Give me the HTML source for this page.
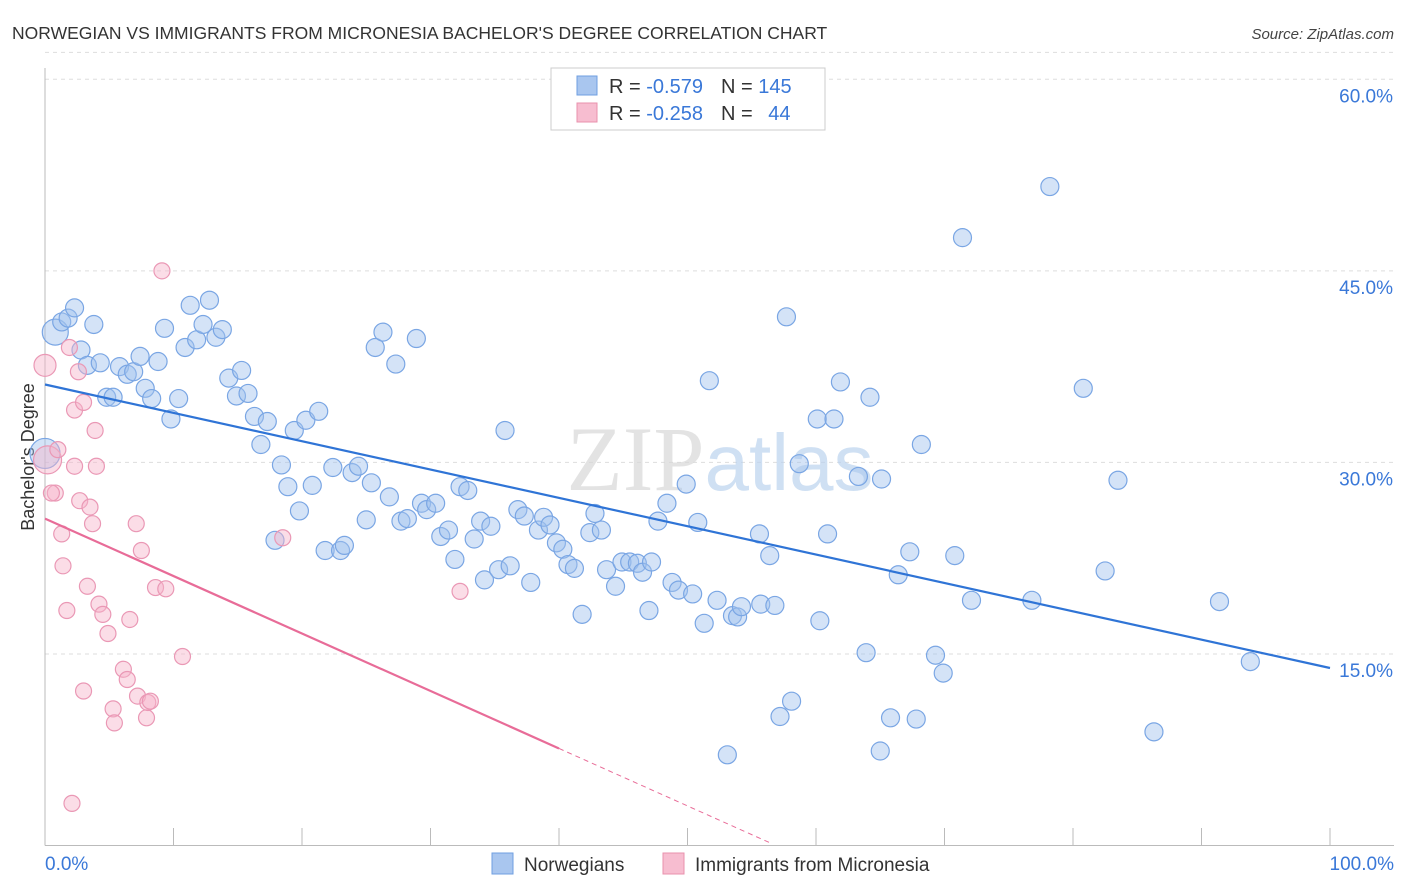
<!DOCTYPE html>
<html><head><meta charset="utf-8">
<style>
body{margin:0;background:#fff;font-family:"Liberation Sans",sans-serif;}
svg{display:block}
</style></head>
<body>
<svg id="chart" width="1406" height="892" viewBox="0 0 1406 892" xmlns="http://www.w3.org/2000/svg">
<text x="12" y="39" font-size="17.5" fill="#333" font-family="Liberation Sans, sans-serif">NORWEGIAN VS IMMIGRANTS FROM MICRONESIA BACHELOR'S DEGREE CORRELATION CHART</text>
<text x="1394" y="39" font-size="15" fill="#444" text-anchor="end" font-style="italic">Source: ZipAtlas.com</text>
<g id="grid"></g>
<text x="720" y="490" font-size="92" text-anchor="middle" fill="#d8d8d8" font-family="Liberation Serif, serif" opacity="0.7">ZIP<tspan fill="#bcd3ee" font-family="Liberation Sans, sans-serif" font-size="80">atlas</tspan></text>
<text transform="translate(34,457) rotate(-90)" font-size="18" fill="#333" text-anchor="middle">Bachelor's Degree</text>
<g id="points"></g>
<g id="trends"></g>
<g>
<rect x="551" y="68" width="274" height="62" fill="#fff" stroke="#ccc"/>
<rect x="577" y="76" width="20" height="19" fill="#a9c6ef" stroke="#6f9fe0"/>
<rect x="577" y="103" width="20" height="19" fill="#f7bdd0" stroke="#e891ad"/>
<text x="609" y="93" font-size="20" fill="#333">R = <tspan fill="#3a78d8">-0.579</tspan><tspan dx="18">N = </tspan><tspan fill="#3a78d8">145</tspan></text>
<text x="609" y="120" font-size="20" fill="#333">R = <tspan fill="#3a78d8">-0.258</tspan><tspan dx="18">N = </tspan><tspan fill="#3a78d8" dx="10">44</tspan></text>
</g>
<g>
<rect x="492" y="853" width="21" height="21" fill="#a9c6ef" stroke="#6f9fe0"/>
<text x="524" y="871" font-size="19" fill="#333">Norwegians</text>
<rect x="663" y="853" width="21" height="21" fill="#f7bdd0" stroke="#e891ad"/>
<text x="695" y="871" font-size="19" fill="#333">Immigrants from Micronesia</text>
</g>
</svg>
<script>
const xTicks=[0,10,20,30,40,50,60,70,80,90,100];
const yTicks=[15,30,45,60];
const blueX=[0.8,1.3,1.8,2.3,2.8,3.8,3.3,4.3,4.8,5.3,5.8,6.4,6.9,7.4,7.8,8.3,8.8,9.3,9.8,10.4,10.9,11.3,11.8,12.3,12.8,13.3,13.8,14.3,14.9,15.3,15.8,16.3,16.8,17.3,17.9,18.4,18.9,19.4,19.8,20.3,20.8,21.3,21.8,22.4,23.0,23.3,23.9,24.4,25.0,25.4,25.7,26.3,26.8,27.3,27.7,28.2,28.9,29.3,29.7,30.4,30.8,31.4,31.9,32.3,32.9,33.4,33.9,34.2,34.7,35.3,35.8,36.2,36.8,37.3,37.8,38.4,38.8,39.3,39.8,40.3,40.7,41.2,41.8,42.4,42.8,43.3,43.7,44.4,44.9,45.5,46.1,46.5,47.0,47.2,47.7,48.4,48.8,49.3,49.9,50.4,50.8,51.3,51.7,52.3,53.5,53.9,54.2,55.6,55.7,56.4,56.8,57.2,57.7,58.1,58.7,60.1,60.3,60.9,61.4,61.9,63.3,63.9,64.2,65.1,65.8,65.0,66.4,67.3,67.8,68.2,69.3,69.9,70.8,71.4,72.1,76.8,78.2,80.8,82.5,83.5,86.3,91.4,93.8,53.1,0.0];
const blueY=[40.2,41.0,41.3,42.1,38.8,40.8,37.6,37.8,35.1,35.1,37.5,36.9,37.1,38.3,35.8,35.0,37.9,40.5,33.4,35.0,39.0,42.3,39.6,40.8,42.7,39.8,40.4,36.6,35.2,37.2,35.4,33.6,31.4,33.2,23.9,29.8,28.1,32.5,26.2,33.3,28.2,34.0,23.1,29.6,23.1,23.5,29.2,29.7,25.5,28.4,39.0,40.2,27.3,37.7,25.4,25.6,39.7,26.8,26.3,26.8,24.2,24.7,22.4,28.1,27.8,24.0,25.4,20.8,25.0,21.6,32.5,21.9,26.3,25.8,20.6,24.7,25.7,25.1,23.7,23.2,22.0,21.7,18.1,24.5,26.0,24.7,21.6,20.3,22.2,22.2,22.1,21.4,18.4,22.2,25.4,26.8,20.6,20.0,28.3,19.7,25.3,17.4,36.4,19.2,18.0,17.9,18.7,24.4,18.9,22.7,18.8,10.1,41.4,11.3,29.9,33.4,17.6,24.4,33.4,36.3,28.9,15.1,35.1,28.7,10.0,7.4,21.2,23.0,9.9,31.4,14.9,13.5,22.7,47.6,19.2,19.2,51.6,35.8,21.5,28.6,8.9,19.1,14.4,7.1,30.7];
const pinkX=[0.0,0.2,0.8,1.0,1.3,1.4,1.7,1.9,2.1,2.3,2.3,2.6,2.7,3.0,3.0,3.3,3.5,3.7,3.9,4.0,4.2,4.5,4.9,5.3,5.4,6.1,6.4,6.6,7.1,7.2,7.5,7.9,8.0,8.2,8.6,9.1,9.4,10.7,18.5,32.3,0.5];
const pinkY=[37.6,30.2,27.6,31.0,24.4,21.9,18.4,39.0,3.3,34.1,29.7,37.1,27.0,12.1,34.7,20.3,26.5,25.2,32.5,29.7,18.9,18.1,16.6,10.7,9.6,13.8,13.0,17.7,25.2,11.7,23.1,10.0,11.2,11.3,20.2,45.0,20.1,14.8,24.1,19.9,27.6];
const blueTrend=[36.1,13.9];
const pinkTrend=[25.6,-0.45];
const NS="http://www.w3.org/2000/svg";
const X=v=>45+v*12.85, Y=v=>845.5-v*12.77;
function mk(t,a,p){const e=document.createElementNS(NS,t);for(const k in a)e.setAttribute(k,a[k]);p.appendChild(e);return e;}
const grid=document.getElementById('grid');
yTicks.forEach(t=>{
 const l=mk('line',{x1:45,x2:1394,y1:Y(t),y2:Y(t),stroke:'#ddd','stroke-dasharray':'4,4'},grid);
 
 
 const tx=mk('text',{x:1393,y:Y(t)+23,'font-size':19,fill:'#3a78d8','text-anchor':'end'},grid);
 tx.textContent=t.toFixed(1)+'%';
 
 
});
mk('line',{x1:45,x2:1394,y1:Y(62.5)+5,y2:Y(62.5)+5,stroke:'#ddd','stroke-dasharray':'4,4'},grid);
const ax=mk('line',{x1:45,x2:1394,y1:845.5,y2:845.5,stroke:'#bbb'},grid);


const ay=mk('line',{x1:45,x2:45,y1:68,y2:845.5,stroke:'#bbb'},grid);


xTicks.forEach(t=>{
 const l=mk('line',{x1:X(t),x2:X(t),y1:828,y2:845.5,stroke:'#bbb'},grid);
 
 
});
[[0,'0.0%','start',45],[100,'100.0%','end',1394]].forEach(d=>{
 const tx=mk('text',{x:d[3],y:870,'font-size':19,fill:'#3a78d8','text-anchor':d[2]},grid);
 tx.textContent=d[1];
 
 
});
const pts=document.getElementById('points');
blueX.forEach((v,i)=>{
 const r=(i===blueX.length-1)?15:(i===0?13:9);
 const c=mk('circle',{cx:X(v),cy:Y(blueY[i]),r:r,fill:'rgba(160,192,238,0.45)',stroke:'#7aa6e4','stroke-width':1.2},pts);
 
 
});
pinkX.forEach((v,i)=>{
 const r=i===1?14:(i===0?11:8);
 const c=mk('circle',{cx:X(v),cy:Y(pinkY[i]),r:r,fill:'rgba(246,180,202,0.45)',stroke:'#ea98b5','stroke-width':1.2},pts);
 
 
});
const tr=document.getElementById('trends');
const bl=mk('line',{x1:X(0),y1:Y(blueTrend[0]),x2:X(100),y2:Y(blueTrend[1]),stroke:'#2f74d6','stroke-width':2.2},tr);


const pEnd=40, pDash=56.4;
const pl=mk('line',{x1:X(0),y1:Y(pinkTrend[0]),x2:X(pEnd),y2:Y(pinkTrend[0]+pinkTrend[1]*pEnd),stroke:'#e86c98','stroke-width':2.2},tr);


const pd=mk('line',{x1:X(pEnd),y1:Y(pinkTrend[0]+pinkTrend[1]*pEnd),x2:X(pDash),y2:Y(pinkTrend[0]+pinkTrend[1]*pDash),stroke:'#e86c98','stroke-width':1,'stroke-dasharray':'5,4'},tr);


</script>
</body></html>
